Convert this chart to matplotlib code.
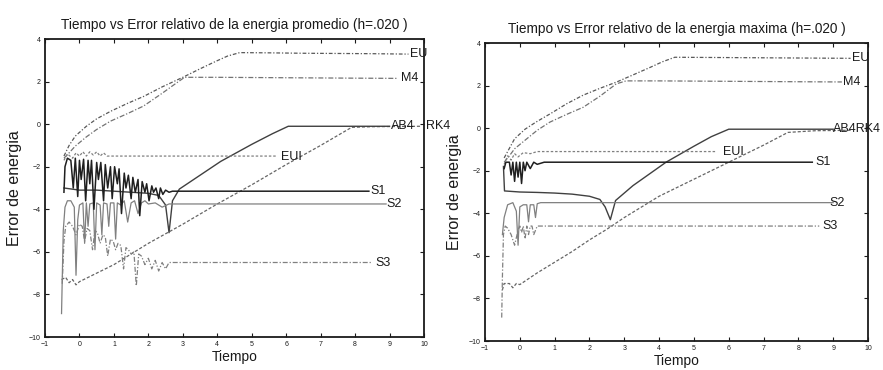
import matplotlib
matplotlib.use("Agg")
import matplotlib.pyplot as plt

plt.rcParams['font.family'] = ['Liberation Sans', 'DejaVu Sans']

# ---------------- Left panel: average energy error ----------------
L_EU_t = [-0.45, -0.3, -0.12, 0.2, 0.5, 0.9, 1.4, 1.86, 2.4, 3.0, 3.5, 3.97, 4.3, 4.65, 5.5, 6.5, 7.5, 8.5, 9.55]
L_EU_y = [-1.5, -1.0, -0.56, -0.1, 0.25, 0.6, 0.98, 1.3, 1.75, 2.2, 2.6, 2.96, 3.2, 3.36, 3.35, 3.33, 3.32, 3.31, 3.29]

L_M4_t = [-0.45, -0.3, -0.12, 0.2, 0.5, 0.9, 1.4, 1.86, 2.4, 2.7, 3.05, 4.0, 5.0, 6.0, 7.0, 8.0, 9.25]
L_M4_y = [-1.6, -1.35, -1.03, -0.6, -0.25, 0.14, 0.5, 0.85, 1.45, 1.8, 2.2, 2.2, 2.19, 2.18, 2.17, 2.16, 2.15]

L_AB4_t = [-0.45, 0.0, 0.5, 1.0, 1.5, 2.0, 2.3, 2.5, 2.6, 2.7, 2.9, 3.5, 4.1, 5.0, 5.6, 6.06, 7.0, 8.0, 9.0]
L_AB4_y = [-3.0, -3.1, -3.1, -3.15, -3.2, -3.25, -3.35, -3.8, -5.1, -3.6, -3.05, -2.4, -1.75, -0.95, -0.45, -0.1, -0.1, -0.1, -0.1]

L_RK4_t = [-0.52, -0.4, -0.3, -0.2, -0.1, 0.0, 0.5, 1.0, 2.0, 3.0, 4.0, 5.0, 6.0, 7.0, 7.9, 8.5, 9.9]
L_RK4_y = [-7.3, -7.2, -7.45, -7.3, -7.55, -7.4, -7.0, -6.6, -5.6, -4.7, -3.75, -2.85, -1.9, -1.0, -0.15, -0.12, -0.1]

L_EUI_t = [-0.45, -0.35, -0.2, -0.1, 0.0, 0.1, 0.2, 0.3, 0.4, 0.5, 0.6, 0.7, 0.8, 1.0, 2.0, 3.0, 4.0, 5.0, 5.7]
L_EUI_y = [-1.7, -1.4, -1.6, -1.35, -1.5, -1.3, -1.5, -1.3, -1.45, -1.3, -1.5, -1.35, -1.5, -1.5, -1.5, -1.5, -1.5, -1.5, -1.5]

L_S1_t = [-0.45, -0.42, -0.35, -0.25, -0.18, -0.12, -0.05, 0.0, 0.05, 0.12,
          0.18, 0.25, 0.3, 0.35, 0.42, 0.5, 0.55, 0.62, 0.7, 0.75,
          0.82, 0.9, 0.95, 1.02, 1.1, 1.15, 1.22, 1.3, 1.35, 1.42,
          1.5, 1.55, 1.62, 1.7, 1.75, 1.82, 1.9, 1.95, 2.02, 2.1,
          2.15, 2.22, 2.3, 2.35, 2.42, 2.5, 2.6, 2.7, 3.0, 5.0,
          7.0, 8.4]
L_S1_y = [-3.2, -2.0, -1.6, -1.7, -3.0, -1.6, -3.4, -1.7, -2.6, -1.65,
          -3.6, -1.7, -2.8, -1.7, -4.0, -1.8, -2.6, -1.8, -3.6, -1.9,
          -3.0, -2.0, -3.5, -2.0, -2.8, -2.1, -4.2, -2.3, -3.0, -2.4,
          -3.5, -2.5, -3.2, -2.6, -4.3, -2.7, -3.2, -2.8, -3.6, -2.9,
          -3.2, -3.0, -3.5, -3.0, -3.3, -3.1, -3.2, -3.15, -3.15, -3.15,
          -3.15, -3.15]

L_S2_t = [-0.52, -0.47, -0.42, -0.35, -0.25, -0.15, -0.1, -0.05, 0.0, 0.1,
          0.15, 0.2, 0.25, 0.3, 0.4, 0.45, 0.5, 0.6, 0.65, 0.7,
          0.8, 0.85, 0.9, 1.0, 1.05, 1.1, 1.2, 1.3, 1.4, 1.5,
          1.6, 1.7, 1.8, 1.9, 2.0, 2.2, 2.4, 2.6, 2.8, 4.0,
          6.0, 8.9]
L_S2_y = [-8.9, -5.0, -3.9, -3.6, -3.6, -3.9, -7.1, -4.5, -3.8, -3.7,
          -5.6, -3.7, -4.8, -3.75, -3.7, -5.9, -3.7, -3.8, -5.2, -3.7,
          -3.75, -4.8, -3.7, -3.7, -5.4, -3.7, -3.8, -3.6, -4.6, -3.7,
          -3.6, -4.2, -3.7, -3.6, -3.75, -3.7, -3.9, -3.75, -3.75, -3.75,
          -3.75, -3.75]

L_S3_t = [-0.5, -0.45, -0.4, -0.3, -0.2, -0.1, 0.0, 0.08, 0.15, 0.22,
          0.3, 0.38, 0.45, 0.52, 0.6, 0.68, 0.75, 0.82, 0.9, 0.98,
          1.05, 1.12, 1.2, 1.28, 1.35, 1.42, 1.5, 1.58, 1.65, 1.72,
          1.8, 1.9, 2.0, 2.1, 2.2, 2.3, 2.4, 2.5, 2.6, 2.8,
          3.2, 5.0, 7.0, 8.5]
L_S3_y = [-7.5, -5.5, -4.8, -4.6, -4.8, -5.2, -4.7, -4.8, -5.5, -4.9,
          -5.0, -5.9, -5.0, -5.1, -5.6, -5.2, -5.3, -6.2, -5.4, -5.5,
          -5.9, -5.6, -5.7, -6.8, -5.8, -5.9, -6.1, -6.0, -7.6, -6.1,
          -6.2, -6.6, -6.3, -6.8, -6.4, -6.9, -6.5, -6.8, -6.5, -6.5,
          -6.5, -6.5, -6.5, -6.5]

# ---------------- Right panel: maximum energy error ----------------
R_EU_t = [-0.45, -0.3, -0.15, 0.15, 0.46, 0.9, 1.35, 1.82, 2.3, 2.77, 3.25, 3.75, 4.1, 4.45, 5.5, 6.5, 7.5, 8.5, 9.5]
R_EU_y = [-1.4, -0.95, -0.5, -0.05, 0.28, 0.7, 1.15, 1.55, 1.87, 2.16, 2.5, 2.86, 3.12, 3.33, 3.32, 3.31, 3.30, 3.29, 3.28]

R_M4_t = [-0.45, -0.3, -0.15, 0.2, 0.5, 0.86, 1.35, 1.82, 2.3, 2.77, 3.05, 4.0, 5.0, 6.0, 7.0, 8.0, 9.25]
R_M4_y = [-1.6, -1.3, -0.97, -0.5, -0.1, 0.28, 0.65, 0.98, 1.5, 2.08, 2.22, 2.22, 2.21, 2.2, 2.19, 2.18, 2.17]

R_AB4_t = [-0.47, -0.44, 0.0, 0.5, 1.0, 1.5, 2.0, 2.3, 2.45, 2.6, 2.75, 3.25, 4.2, 5.0, 5.5, 6.0, 7.0, 8.0, 9.0]
R_AB4_y = [-1.8, -2.95, -3.0, -3.02, -3.05, -3.1, -3.2, -3.35, -3.7, -4.3, -3.4, -2.7, -1.6, -0.85, -0.4, -0.05, -0.05, -0.05, -0.05]

R_RK4_t = [-0.5, -0.45, -0.3, -0.2, -0.1, 0.0, 0.5, 1.0, 1.5, 2.0, 2.5, 3.0, 3.5, 4.0, 5.0, 6.0, 7.0, 7.7, 8.5, 9.5]
R_RK4_y = [-7.6, -7.3, -7.3, -7.5, -7.3, -7.35, -6.8, -6.3, -5.8, -5.25, -4.75, -4.2, -3.7, -3.2, -2.4, -1.6, -0.8, -0.2, -0.12, -0.1]

R_EUI_t = [-0.45, -0.35, -0.25, -0.15, -0.05, 0.1, 0.3, 0.5, 0.8, 1.5, 3.0, 4.5, 5.66]
R_EUI_y = [-1.7, -1.3, -1.5, -1.2, -1.35, -1.15, -1.2, -1.1, -1.1, -1.1, -1.1, -1.1, -1.1]

R_S1_t = [-0.45, -0.4, -0.3, -0.25, -0.2, -0.15, -0.1, -0.05, 0.0, 0.05, 0.1, 0.15, 0.2, 0.3, 0.4, 0.5, 0.7, 1.0, 3.0, 5.0, 7.0, 8.4]
R_S1_y = [-1.9, -1.6, -1.6, -2.2, -1.6, -2.5, -1.6, -2.3, -1.6, -2.6, -1.6, -2.0, -1.6, -1.9, -1.6, -1.7, -1.6, -1.6, -1.6, -1.6, -1.6, -1.6]

R_S2_t = [-0.5, -0.45, -0.35, -0.2, -0.1, -0.05, 0.0, 0.1, 0.2, 0.25, 0.3, 0.4, 0.45, 0.5, 0.6, 0.8, 1.0, 3.0, 5.0, 7.0, 9.0]
R_S2_y = [-5.0, -4.2, -3.6, -3.5, -3.9, -5.5, -3.7, -3.6, -3.6, -4.4, -3.6, -3.6, -4.2, -3.55, -3.5, -3.5, -3.5, -3.5, -3.5, -3.5, -3.5]

R_S3_t = [-0.52, -0.5, -0.47, -0.42, -0.35, -0.25, -0.15, -0.05, 0.0, 0.05, 0.1, 0.15, 0.2, 0.25, 0.3, 0.35, 0.4, 0.5, 1.0, 3.0, 5.0, 7.0, 8.6]
R_S3_y = [-8.9, -7.0, -5.0, -4.6, -4.7, -5.0, -5.5, -4.8, -4.6, -4.9, -4.6, -5.2, -4.6, -5.0, -4.6, -4.6, -5.0, -4.6, -4.6, -4.6, -4.6, -4.6, -4.6]

TITLE_L = "Tiempo vs Error relativo de la energia promedio (h=.020 )"
TITLE_R = "Tiempo vs Error relativo de la energia maxima (h=.020 )"
XLABEL = "Tiempo"
YLABEL = "Error de energia"
X_TICKS = list(range(-1, 11))
Y_TICKS = list(range(-10, 5, 2))

# curve labels: (text, x, y) in data units
L_LABELS = [("EU", 9.6, 3.3), ("M4", 9.33, 2.15), ("AB4", 9.04, -0.1), ("RK4", 10.06, -0.1),
            ("EUI", 5.86, -1.55), ("S1", 8.43, -3.15), ("S2", 8.9, -3.75), ("S3", 8.6, -6.5)]
R_LABELS = [("EU", 9.54, 3.3), ("M4", 9.28, 2.15), ("AB4RK4", 9.0, -0.05),
            ("EUI", 5.83, -1.1), ("S1", 8.48, -1.6), ("S2", 8.9, -3.5), ("S3", 8.68, -4.6)]

STYLES = {
    "EU":  dict(color="0.35", lw=0.9, ls=(0, (3, 1.5, 1, 1.5))),
    "M4":  dict(color="0.45", lw=0.9, ls=(0, (4, 1.5, 1, 1.5))),
    "AB4": dict(color="0.25", lw=1.0, ls="-"),
    "RK4": dict(color="0.40", lw=0.9, ls=(0, (2.5, 1.5))),
    "EUI": dict(color="0.50", lw=0.9, ls=(0, (2, 1.5))),
    "S1":  dict(color="0.12", lw=1.1, ls="-"),
    "S2":  dict(color="0.50", lw=0.9, ls="-"),
    "S3":  dict(color="0.50", lw=0.9, ls=(0, (4, 1.5, 1, 1.5))),
}

left_series = [("EU", L_EU_t, L_EU_y), ("M4", L_M4_t, L_M4_y), ("RK4", L_RK4_t, L_RK4_y),
               ("AB4", L_AB4_t, L_AB4_y), ("EUI", L_EUI_t, L_EUI_y), ("S3", L_S3_t, L_S3_y),
               ("S2", L_S2_t, L_S2_y), ("S1", L_S1_t, L_S1_y)]
right_series = [("EU", R_EU_t, R_EU_y), ("M4", R_M4_t, R_M4_y), ("RK4", R_RK4_t, R_RK4_y),
                ("AB4", R_AB4_t, R_AB4_y), ("EUI", R_EUI_t, R_EUI_y), ("S3", R_S3_t, R_S3_y),
                ("S2", R_S2_t, R_S2_y), ("S1", R_S1_t, R_S1_y)]

W, H = 883, 370
fig = plt.figure(figsize=(W / 100, H / 100), dpi=100)

def px_axes(x0, x1, ytop, ybot):
    return fig.add_axes([x0 / W, 1 - ybot / H, (x1 - x0) / W, (ybot - ytop) / H])

ax_l = px_axes(45, 424, 39, 337)
ax_r = px_axes(485, 868, 43, 341)

def draw(ax, series, labels, title):
    for name, t, y in series:
        ax.plot(t, y, **STYLES[name])
    for text, x, y in labels:
        ax.text(x, y, text, fontsize=9, color="0.1", va="center", ha="left", clip_on=False)
    ax.set_xlim(-1, 10)
    ax.set_ylim(-10, 4)
    ax.set_xticks(X_TICKS)
    ax.set_yticks(Y_TICKS)
    ax.tick_params(direction="in", top=True, right=True, length=3, width=0.8,
                   labelsize=5, colors="0.1", pad=3)
    for sp in ax.spines.values():
        sp.set_linewidth(1.3)
        sp.set_color("0.1")
    ax.set_title(title, fontsize=9.8, pad=7, color="0.1")
    ax.set_xlabel(XLABEL, fontsize=10, labelpad=1, color="0.1")
    ax.set_ylabel(YLABEL, fontsize=11.5, labelpad=5, color="0.1")

draw(ax_l, left_series, L_LABELS, TITLE_L)
draw(ax_r, right_series, R_LABELS, TITLE_R)

fig.savefig("out.png", dpi=100, facecolor="white")
